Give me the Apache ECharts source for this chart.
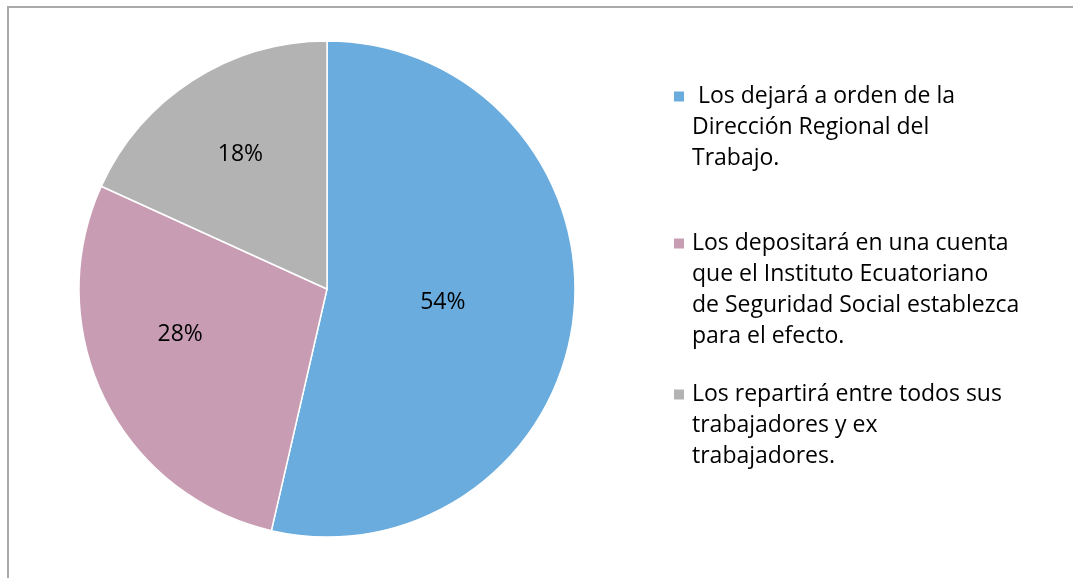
<!DOCTYPE html>
<html lang="es" style="height: 100%">
<head>
    <meta charset="UTF-8">
    <title>Pie</title>
    <script src="https://cdn.jsdelivr.net/npm/echarts@6/dist/echarts.min.js"></script>
    <style>
        body { margin: 0; background: #fff; }
        #container { position: absolute; left: 0; top: 0; width: 1073px; height: 578px; }
        #frame { position: absolute; left: 7px; top: 6px; width: 1100px; height: 600px;
                 border: 2px solid #aaaaaa; pointer-events: none; }
    </style>
</head>
<body>
<div id="container"></div>
<div id="frame"></div>

<script type="text/javascript">
    var dom = document.getElementById("container");
    var myChart = echarts.init(dom);

    // categorias (legend text, split in lines as in the original)
    var categories = [
        " Los dejará a orden de la\nDirección Regional del\nTrabajo.",
        "Los depositará en una cuenta\nque el Instituto Ecuatoriano\nde Seguridad Social establezca\npara el efecto.",
        "Los repartirá entre todos sus\ntrabajadores y ex\ntrabajadores."
    ];
    var values = [53.6, 28.2, 18.2];
    var colors = ['#6aacdd', '#c89db4', '#b3b3b3'];
    var legendTops = [14, 130, 312];
    var labelRadius = [0.47, 0.62, 0.645]; // fraction of the radius where each % sits
    var labelTurn = [0, 9, 0];              // small angular nudge (degrees)

    var font = 'Open Sans';
    var lineH = 31;
    var pieCenter = [327, 289];
    var pieRadius = 248;

    // one legend per item; blank lines in front keep the icon on the first text line
    var legends = categories.map(function (name, i) {
        var n = name.split('\n').length;
        return {
            orient: 'vertical',
            left: 667,
            top: legendTops[i],
            itemWidth: 12,
            itemHeight: 12,
            icon: 'rect',
            selectedMode: false,
            data: [name],
            formatter: function (nm) {
                return new Array(n).join('\n') + nm;
            },
            textStyle: {
                fontFamily: font,
                fontSize: 23,
                color: '#000',
                lineHeight: lineH,
                padding: [0, 0, 0, 2]
            }
        };
    });

    var option = {
        animation: false,
        color: colors,
        legend: legends,
        series: [{
            type: 'pie',
            center: pieCenter,
            radius: pieRadius,
            startAngle: 90,
            clockwise: true,
            itemStyle: {
                borderColor: '#fff',
                borderWidth: 1.5
            },
            label: {
                show: true,
                position: 'inside',
                fontFamily: font,
                fontSize: 23,
                color: '#000',
                formatter: function (p) {
                    return Math.round(p.percent) + '%';
                }
            },
            labelLayout: function (p) {
                var r = p.labelRect;
                var cx = r.x + r.width / 2 - pieCenter[0];
                var cy = r.y + r.height / 2 - pieCenter[1];
                var a = Math.atan2(cy, cx) + labelTurn[p.dataIndex] * Math.PI / 180;
                var d = labelRadius[p.dataIndex] * pieRadius;
                return {
                    x: pieCenter[0] + Math.cos(a) * d,
                    y: pieCenter[1] + Math.sin(a) * d,
                    align: 'center',
                    verticalAlign: 'middle'
                };
            },
            labelLine: { show: false },
            emphasis: { disabled: true },
            data: categories.map(function (c, i) {
                return { name: c, value: values[i] };
            })
        }]
    };

    myChart.setOption(option);
</script>
</body>
</html>
